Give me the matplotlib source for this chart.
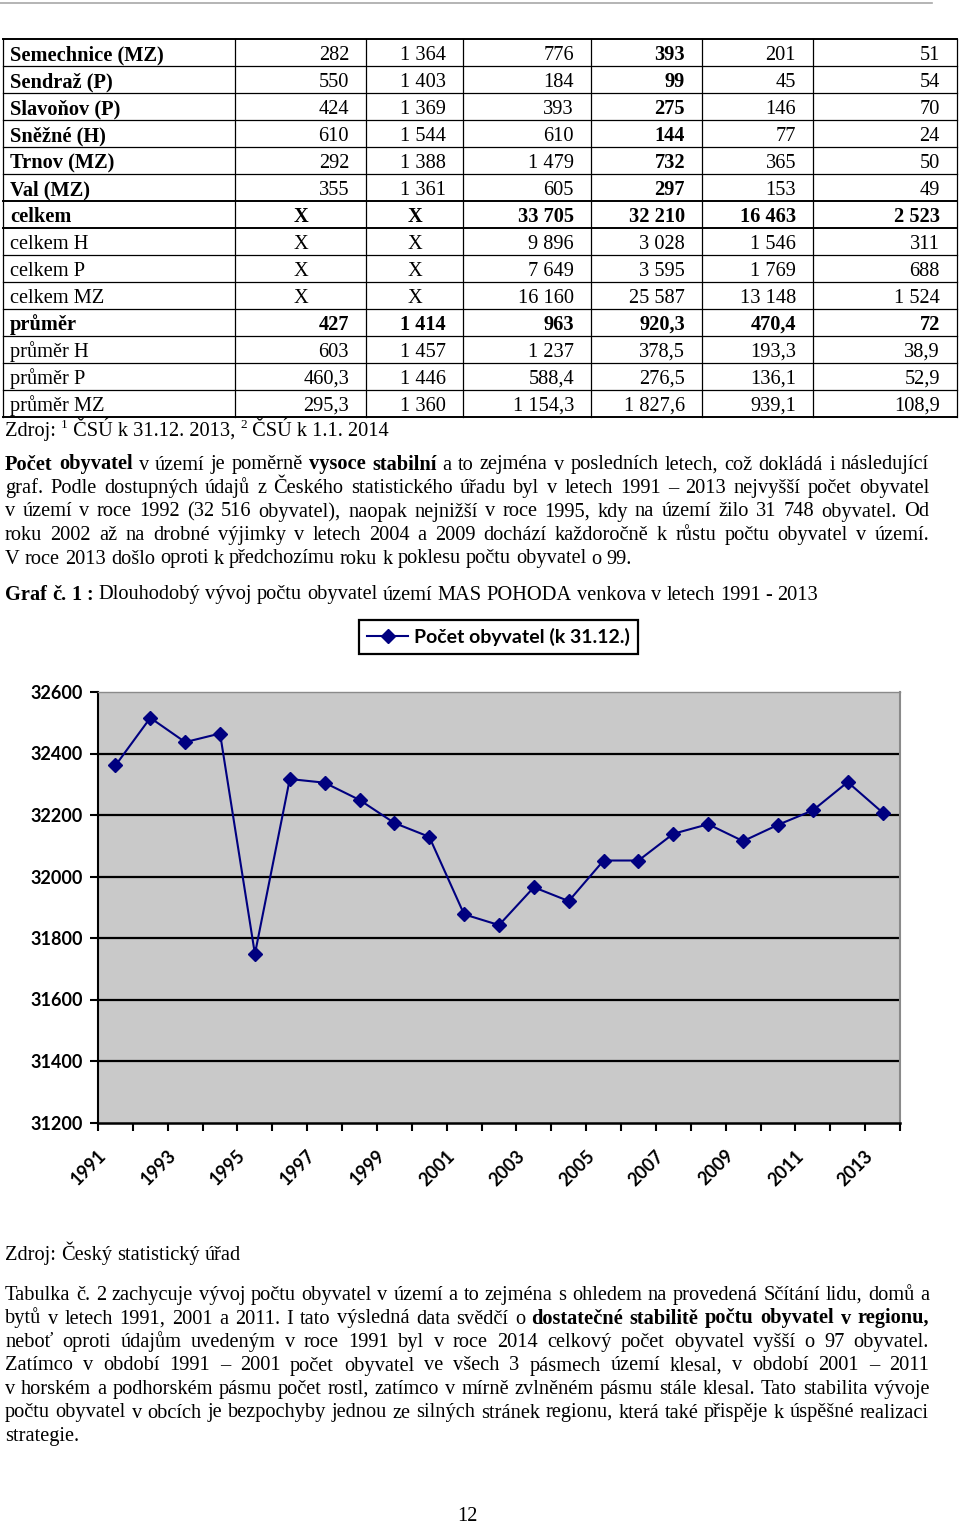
import matplotlib
matplotlib.use("Agg")
import matplotlib.pyplot as plt
from matplotlib.transforms import ScaledTranslation

# ---------------- data ----------------
names = ["Semechnice (MZ)", "Sendraž (P)", "Slavoňov (P)", "Sněžné (H)", "Trnov (MZ)",
         "Val (MZ)", "celkem", "celkem H", "celkem P", "celkem MZ", "průměr",
         "průměr H", "průměr P", "průměr MZ"]
col1 = ["282", "550", "424", "610", "292", "355", "X", "X", "X", "X", "427", "603", "460,3", "295,3"]
col2 = ["1 364", "1 403", "1 369", "1 544", "1 388", "1 361", "X", "X", "X", "X", "1 414", "1 457", "1 446", "1 360"]
col3 = ["776", "184", "393", "610", "1 479", "605", "33 705", "9 896", "7 649", "16 160", "963", "1 237", "588,4", "1 154,3"]
col4 = ["393", "99", "275", "144", "732", "297", "32 210", "3 028", "3 595", "25 587", "920,3", "378,5", "276,5", "1 827,6"]
col5 = ["201", "45", "146", "77", "365", "153", "16 463", "1 546", "1 769", "13 148", "470,4", "193,3", "136,1", "939,1"]
col6 = ["51", "54", "70", "24", "50", "49", "2 523", "311", "688", "1 524", "72", "38,9", "52,9", "108,9"]

years = [1991, 1992, 1993, 1994, 1995, 1996, 1997, 1998, 1999, 2000, 2001, 2002,
         2003, 2004, 2005, 2006, 2007, 2008, 2009, 2010, 2011, 2012, 2013]
population = [32361, 32516, 32437, 32465, 31748, 32317, 32305, 32249, 32174, 32129,
              31877, 31842, 31965, 31920, 32052, 32052, 32139, 32170, 32115, 32168,
              32215, 32307, 32208]
series_label = "Počet obyvatel (k 31.12.)"
yticks = [31200, 31400, 31600, 31800, 32000, 32200, 32400, 32600]

# ---------------- layout ----------------
W, H = 960, 1524
SERIF = "Liberation Serif"
FS = 14.7
CHARTFONT = "Lato"

fig = plt.figure(figsize=(W / 100, H / 100), dpi=100)
page = fig.add_axes([0, 0, 1, 1])
page.set_xlim(0, W)
page.set_ylim(H, 0)
page.axis("off")
renderer = fig.canvas.get_renderer()


def txt(x, y, s, bold=False, size=FS, ha="left", **kw):
    return page.text(x, y, s, fontsize=size, family=SERIF,
                     fontweight="bold" if bold else "normal",
                     ha=ha, va="baseline", **kw)


def width_of(t):
    return t.get_window_extent(renderer).width


sp_a = txt(0, -100, "x x")
sp_b = txt(0, -100, "xx")
SPACE = width_of(sp_a) - width_of(sp_b)
sp_a.remove(); sp_b.remove()


def line(segments, y, x0=5, x1=None):
    words = []
    for s, b in segments:
        for w in s.split(" "):
            if w:
                words.append((w, b))
    objs = [txt(0, y, w, bold=b) for w, b in words]
    ws = [width_of(o) for o in objs]
    if x1 is None or len(objs) < 2:
        gap = SPACE
    else:
        gap = (x1 - x0 - sum(ws)) / (len(objs) - 1)
    x = x0
    for o, w in zip(objs, ws):
        o.set_x(x)
        x += w + gap
    return x


# header rule
page.plot([0, 932], [3, 3], color="#a8a8a8", lw=1.2)

# ---------------- table ----------------
col_x = [3, 235, 366, 463, 591, 702, 813, 957]
top = 39
rh = 27
nrows = len(names)
for i in range(nrows + 1):
    y = top + i * rh
    lw = 1.4 if i in (0, 6, 7, nrows) else 0.9
    page.plot([col_x[0], col_x[-1]], [y, y], color="black", lw=lw)
for x in col_x:
    page.plot([x, x], [top, top + nrows * rh], color="black", lw=0.9)

cols = [col1, col2, col3, col4, col5, col6]
for r in range(nrows):
    yb = top + r * rh + 21
    full_bold = names[r] in ("celkem", "průměr")
    name_bold = r <= 6 or names[r] == "průměr"
    txt(10, yb, names[r], bold=name_bold)
    for c, colv in enumerate(cols):
        v = colv[r]
        b = full_bold or (r <= 5 and c == 3)
        if v == "X":
            txt((col_x[c + 1] + col_x[c + 2]) / 2, yb, v, bold=b, ha="center")
        else:
            txt(col_x[c + 2] - 17, yb, v, bold=b, ha="right")

# source line with superscripts
x = 5
yb = 436
t = txt(x, yb, "Zdroj: "); x += width_of(t)
t = txt(x, yb - 8, "1", size=9.5); x += width_of(t)
t = txt(x, yb, " ČSÚ k 31.12. 2013, "); x += width_of(t)
t = txt(x, yb - 8, "2", size=9.5); x += width_of(t)
t = txt(x, yb, " ČSÚ k 1.1. 2014")

# ---------------- paragraph 1 ----------------
p1 = [
    [("Počet obyvatel", True), ("v území je poměrně", False), ("vysoce stabilní", True),
     ("a to zejména v posledních letech, což dokládá i následující", False)],
    [("graf. Podle dostupných údajů z Českého statistického úřadu byl v letech 1991 – 2013 nejvyšší počet obyvatel", False)],
    [("v území v roce 1992 (32 516 obyvatel), naopak nejnižší v roce 1995, kdy na území žilo 31 748 obyvatel. Od", False)],
    [("roku 2002 až na drobné výjimky v letech 2004 a 2009 dochází každoročně k růstu počtu obyvatel v území.", False)],
    [("V roce 2013 došlo oproti k předchozímu roku k poklesu počtu obyvatel o 99.", False)],
]
base = 469.5
for i, segs in enumerate(p1):
    line(segs, base + i * 23.5, x1=None if i == len(p1) - 1 else 929)

line([("Graf č. 1 :", True), ("Dlouhodobý vývoj počtu obyvatel území MAS POHODA venkova v letech 1991 - 2013", False)], 599.5)

# ---------------- chart ----------------
ax_l, ax_r, ax_t, ax_b = 98, 900, 692, 1122.5
ax = fig.add_axes([ax_l / W, 1 - ax_b / H, (ax_r - ax_l) / W, (ax_b - ax_t) / H])
ax.set_facecolor("#c9c9c9")
xs = list(range(len(years)))
ln, = ax.plot(xs, population, color="#000080", lw=1.5, marker="D", markersize=7,
              markerfacecolor="#000080", markeredgecolor="#000080", zorder=3,
              label=series_label)
ax.set_xlim(-0.5, len(years) - 0.5)
ax.set_ylim(yticks[0], yticks[-1])
ax.set_yticks(yticks)
ax.set_yticklabels([str(v) for v in yticks])
ax.yaxis.grid(True, color="black", lw=1.6)
ax.set_axisbelow(True)
gl = ax.get_ygridlines()
gl[-1].set_visible(False)
gl[0].set_visible(False)

major = [i for i in xs if years[i] % 2 == 1]
ax.set_xticks(major)
ax.set_xticklabels([str(years[i]) for i in major])
ax.set_xticks([i - 0.5 for i in range(len(years) + 1)], minor=True)
ax.tick_params(axis="x", which="major", length=0, pad=22)
ax.tick_params(axis="x", which="minor", length=6, width=1.5, direction="out", color="black")
ax.tick_params(axis="y", length=6, width=1.5, direction="out", color="black", pad=5)

for lab in ax.get_xticklabels():
    lab.set_fontfamily(CHARTFONT)
    lab.set_fontweight("bold")
    lab.set_fontsize(13)
    lab.set_rotation(45)
    lab.set_ha("right")
    lab.set_va("center")
    lab.set_rotation_mode("anchor")
    lab.set_transform(lab.get_transform() + ScaledTranslation(-12 / 100, 0, fig.dpi_scale_trans))
for lab in ax.get_yticklabels():
    lab.set_fontfamily(CHARTFONT)
    lab.set_fontweight("bold")
    lab.set_fontsize(13)

ax.spines["left"].set_color("black")
ax.spines["left"].set_linewidth(1.5)
ax.spines["bottom"].set_color("black")
ax.spines["bottom"].set_linewidth(1.8)
ax.spines["top"].set_color("#8a8a8a")
ax.spines["top"].set_linewidth(1.0)
ax.spines["right"].set_color("#8a8a8a")
ax.spines["right"].set_linewidth(1.5)

leg = ax.legend(handles=[ln], loc="center",
                bbox_to_anchor=(498.5 / W, 1 - 637 / H), bbox_transform=fig.transFigure,
                frameon=True, fancybox=False, framealpha=1, edgecolor="black",
                prop={"family": CHARTFONT, "weight": "bold", "size": 14},
                handlelength=2.1, handletextpad=0.3, borderpad=0.4, borderaxespad=0)
leg.get_frame().set_linewidth(1.6)

# ---------------- below chart ----------------
line([("Zdroj: Český statistický úřad", False)], 1260)

p2 = [
    [("Tabulka č. 2 zachycuje vývoj počtu obyvatel v území a to zejména s ohledem na provedená Sčítání lidu, domů a", False)],
    [("bytů v letech 1991, 2001 a 2011. I tato výsledná data svědčí o", False),
     ("dostatečné stabilitě počtu obyvatel v regionu,", True)],
    [("neboť oproti údajům uvedeným v roce 1991 byl v roce 2014 celkový počet obyvatel vyšší o 97 obyvatel.", False)],
    [("Zatímco v období 1991 – 2001 počet obyvatel ve všech 3 pásmech území klesal, v období 2001 – 2011", False)],
    [("v horském a podhorském pásmu počet rostl, zatímco v mírně zvlněném pásmu stále klesal. Tato stabilita vývoje", False)],
    [("počtu obyvatel v obcích je bezpochyby jednou ze silných stránek regionu, která také přispěje k úspěšné realizaci", False)],
    [("strategie.", False)],
]
base = 1300
for i, segs in enumerate(p2):
    line(segs, base + i * 23.5, x1=None if i == len(p2) - 1 else 929)

txt(467, 1521, "12", ha="center")

fig.savefig("out.png", dpi=100)
